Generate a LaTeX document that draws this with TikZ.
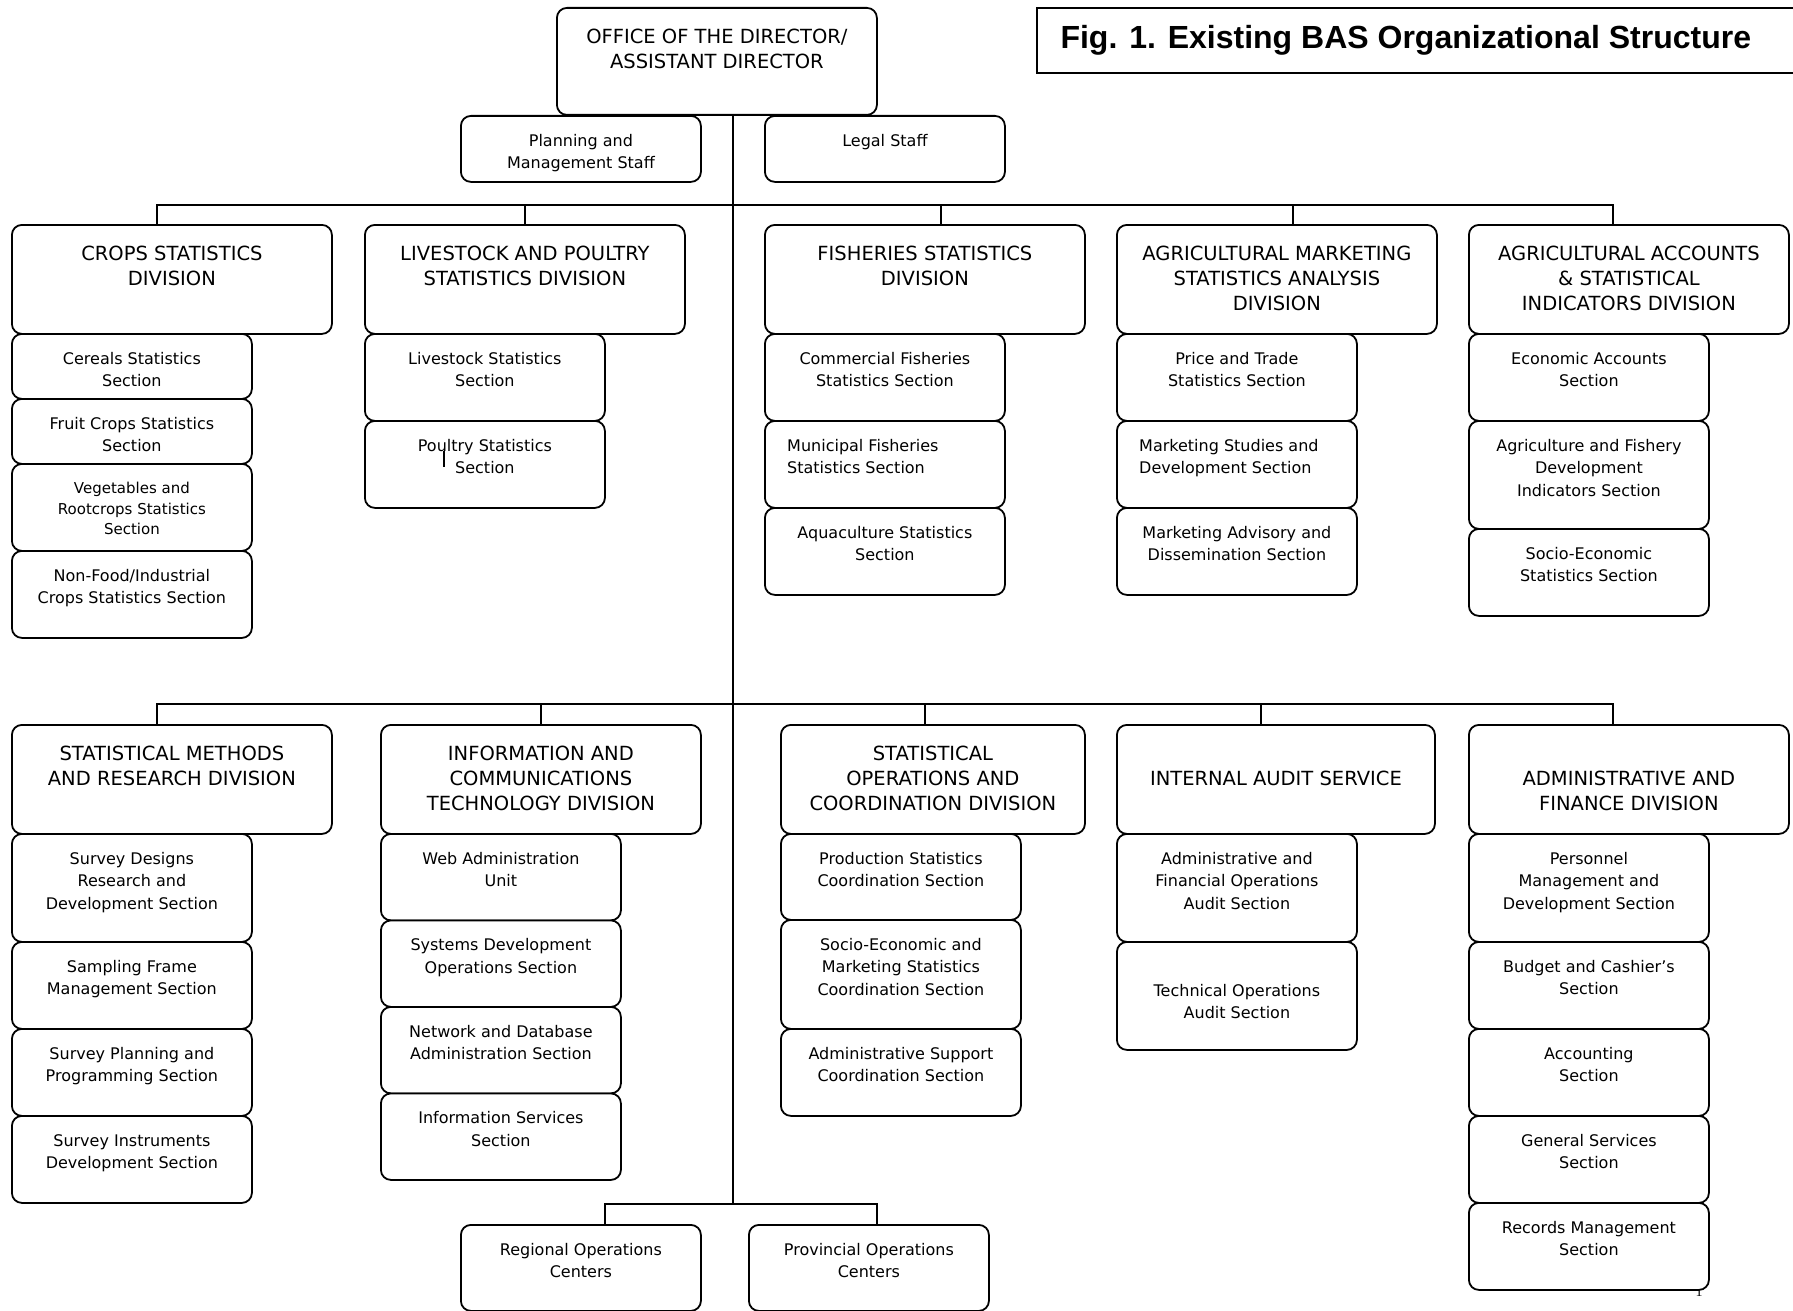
\documentclass[tikz,border=0pt]{standalone}
\usepackage{fontspec}
\setmainfont{DejaVu Sans}
\newfontfamily\headfont{Liberation Sans}
\newfontfamily\pagefont{Liberation Serif}
\usetikzlibrary{positioning, calc}
\tikzset{
  unit/.style={
    draw=black, fill=white, line width=1.8pt, rounded corners=10pt,
    anchor=north west, inner sep=0pt
  },
  divbox/.style={unit, minimum width=320pt, minimum height=109pt},
  secbox/.style={unit, minimum width=240pt, minimum height=87pt},
  divtxt/.style={anchor=north, yshift=-21.5pt, inner sep=0pt, align=center,
    font=\fontsize{19.5}{25}\selectfont},
  sectxt/.style={anchor=north, yshift=-19pt, inner sep=0pt, align=center,
    font=\fontsize{16}{22.5}\selectfont},
  sectxtl/.style={sectxt, anchor=north west, xshift=23pt, align=left},
  link/.style={line width=1.5pt}
}

\begin{document}
\begin{tikzpicture}[x=1pt, y=-1pt]
  \useasboundingbox (0,0) rectangle (1793,1311);

  % ---- title -----------------------------------------------------------------
  \node[draw, line width=1.8pt, anchor=north west, inner sep=0pt,
    minimum width=790pt, minimum height=65pt,
    label={[anchor=west, xshift=21pt, font=\headfont\bfseries\fontsize{32}{36}\selectfont]west:{Fig. 1. Existing BAS Organizational Structure}}]
    (title) at (1036,7) {};

  % ---- office of the director --------------------------------------------------
  \node[divbox, minimum height=107pt, label={[divtxt]north:{OFFICE OF THE DIRECTOR/\\ASSISTANT DIRECTOR}}] (office) at (556,7) {};
  \node[secbox, minimum height=66pt, label={[sectxt]north:{Planning and\\Management Staff}}] (plan) at (460,115) {};
  \node[secbox, minimum height=66pt, label={[sectxt]north:{Legal Staff}}] (legal) at (764,115) {};

  % ---- upper divisions ---------------------------------------------------------
  \node[divbox, label={[divtxt]north:{CROPS STATISTICS\\DIVISION}}] (crops) at (11,224) {};
  \node[divbox, label={[divtxt]north:{LIVESTOCK AND POULTRY\\STATISTICS DIVISION}}] (live) at (364,224) {};
  \node[divbox, label={[divtxt]north:{FISHERIES STATISTICS\\DIVISION}}] (fish) at (764,224) {};
  \node[divbox, label={[divtxt]north:{AGRICULTURAL MARKETING\\STATISTICS ANALYSIS\\DIVISION}}] (mkt) at (1116,224) {};
  \node[divbox, label={[divtxt]north:{AGRICULTURAL ACCOUNTS\\\& STATISTICAL\\INDICATORS DIVISION}}] (accts) at (1468,224) {};

  % ---- crops sections
  \node[secbox, minimum height=65pt, label={[sectxt]north:{Cereals Statistics\\Section}}] (cereal) at (11,333) {};
  \node[secbox, minimum height=65pt, label={[sectxt]north:{Fruit Crops Statistics\\Section}}] (fruit) at (11,398) {};
  \node[secbox, label={[sectxt, font=\fontsize{15}{20.5}\selectfont]north:{Vegetables and\\Rootcrops Statistics\\Section}}] (veg) at (11,463) {};
  \node[secbox, label={[sectxt]north:{Non-Food/Industrial\\Crops Statistics Section}}] (nonfood) at (11,550) {};

  % ---- livestock sections
  \node[secbox, label={[sectxt]north:{Livestock Statistics\\Section}}] (stock) at (364,333) {};
  \node[secbox, label={[sectxt]north:{Poultry Statistics\\Section}}] (poultry) at (364,420) {};

  % ---- fisheries sections
  \node[secbox, label={[sectxt]north:{Commercial Fisheries\\Statistics Section}}] (comm) at (764,333) {};
  \node[secbox, label={[sectxtl]north west:{Municipal Fisheries\\Statistics Section}}] (muni) at (764,420) {};
  \node[secbox, label={[sectxt]north:{Aquaculture Statistics\\Section}}] (aqua) at (764,507) {};

  % ---- marketing sections
  \node[secbox, label={[sectxt]north:{Price and Trade\\Statistics Section}}] (price) at (1116,333) {};
  \node[secbox, label={[sectxtl]north west:{Marketing Studies and\\Development Section}}] (mstud) at (1116,420) {};
  \node[secbox, label={[sectxt]north:{Marketing Advisory and\\Dissemination Section}}] (madv) at (1116,507) {};

  % ---- accounts sections
  \node[secbox, label={[sectxt]north:{Economic Accounts\\Section}}] (econ) at (1468,333) {};
  \node[secbox, minimum height=108pt, label={[sectxt]north:{Agriculture and Fishery\\Development\\Indicators Section}}] (afdi) at (1468,420) {};
  \node[secbox, label={[sectxt]north:{Socio-Economic\\Statistics Section}}] (sesec) at (1468,528) {};

  % ---- lower divisions ---------------------------------------------------------
  \node[divbox, label={[divtxt]north:{STATISTICAL METHODS\\AND RESEARCH DIVISION}}] (meth) at (11,724) {};
  \node[divbox, label={[divtxt]north:{INFORMATION AND\\COMMUNICATIONS\\TECHNOLOGY DIVISION}}] (ict) at (380,724) {};
  \node[divbox, minimum width=304pt, label={[divtxt]north:{STATISTICAL\\OPERATIONS AND\\COORDINATION DIVISION}}] (ops) at (780,724) {};
  \node[divbox, minimum width=318pt, label={[divtxt, yshift=-25pt]north:{INTERNAL AUDIT SERVICE}}] (audit) at (1116,724) {};
  \node[divbox, label={[divtxt, yshift=-25pt]north:{ADMINISTRATIVE AND\\FINANCE DIVISION}}] (admin) at (1468,724) {};

  % ---- methods sections
  \node[secbox, minimum height=108pt, label={[sectxt]north:{Survey Designs\\Research and\\Development Section}}] (design) at (11,833) {};
  \node[secbox, label={[sectxt]north:{Sampling Frame\\Management Section}}] (frame) at (11,941) {};
  \node[secbox, label={[sectxt]north:{Survey Planning and\\Programming Section}}] (plang) at (11,1028) {};
  \node[secbox, label={[sectxt]north:{Survey Instruments\\Development Section}}] (instr) at (11,1115) {};

  % ---- ict sections
  \node[secbox, minimum height=86.5pt, label={[sectxt]north:{Web Administration\\Unit}}] (web) at (380,833) {};
  \node[secbox, minimum height=86.5pt, label={[sectxt]north:{Systems Development\\Operations Section}}] (sysdev) at (380,919.5) {};
  \node[secbox, minimum height=86.5pt, label={[sectxt]north:{Network and Database\\Administration Section}}] (netdb) at (380,1006) {};
  \node[secbox, minimum height=86.5pt, label={[sectxt]north:{Information Services\\Section}}] (infoserv) at (380,1092.5) {};

  % ---- operations sections
  \node[secbox, minimum height=86pt, label={[sectxt]north:{Production Statistics\\Coordination Section}}] (prod) at (780,833) {};
  \node[secbox, minimum height=109pt, label={[sectxt]north:{Socio-Economic and\\Marketing Statistics\\Coordination Section}}] (semkt) at (780,919) {};
  \node[secbox, label={[sectxt]north:{Administrative Support\\Coordination Section}}] (adsup) at (780,1028) {};

  % ---- audit sections
  \node[secbox, minimum height=108pt, label={[sectxt]north:{Administrative and\\Financial Operations\\Audit Section}}] (afaud) at (1116,833) {};
  \node[secbox, minimum height=108pt, label={[sectxt, yshift=-24pt]north:{Technical Operations\\Audit Section}}] (techaud) at (1116,941) {};

  % ---- admin sections
  \node[font=\pagefont\fontsize{14}{14}\selectfont, inner sep=0pt] (pageno) at (1699,1292) {1};
  \node[secbox, minimum height=108pt, label={[sectxt]north:{Personnel\\Management and\\Development Section}}] (pers) at (1468,833) {};
  \node[secbox, label={[sectxt]north:{Budget and Cashier’s\\Section}}] (budget) at (1468,941) {};
  \node[secbox, label={[sectxt]north:{Accounting\\Section}}] (acctg) at (1468,1028) {};
  \node[secbox, label={[sectxt]north:{General Services\\Section}}] (gensrv) at (1468,1115) {};
  \node[secbox, label={[sectxt]north:{Records Management\\Section}}] (records) at (1468,1202) {};

  % ---- field offices ------------------------------------------------------------
  \node[secbox, minimum height=86pt, label={[sectxt]north:{Regional Operations\\Centers}}] (reg) at (460,1224) {};
  \node[secbox, minimum height=86pt, label={[sectxt]north:{Provincial Operations\\Centers}}] (prov) at (748,1224) {};

  % ---- trunk and buses ----------------------------------------------------------
  \coordinate (trunk) at ([xshift=16pt]office.south);
  \coordinate (bus1) at ([yshift=-89pt]trunk);
  \coordinate (bus2) at ([yshift=-588pt]trunk);
  \coordinate (bus3) at ([yshift=-1088pt]trunk);
  \draw[link] (trunk) -- (bus3);

  \draw[link] ([xshift=-15pt]crops.north) |- (bus1) -| ([xshift=-16pt]accts.north);
  \draw[link] (live.north) -- (live.north |- bus1);
  \draw[link] ([xshift=16pt]fish.north) -- ([xshift=16pt]fish.north |- bus1);
  \draw[link] ([xshift=16pt]mkt.north) -- ([xshift=16pt]mkt.north |- bus1);

  \draw[link] ([xshift=-15pt]meth.north) |- (bus2) -| ([xshift=-16pt]admin.north);
  \draw[link] (ict.north) -- (ict.north |- bus2);
  \draw[link] ([xshift=-8pt]ops.north) -- ([xshift=-8pt]ops.north |- bus2);
  \draw[link] ([xshift=-15pt]audit.north) -- ([xshift=-15pt]audit.north |- bus2);

  \draw[link] ([xshift=24pt]reg.north) |- (bus3) -| ([xshift=8pt]prov.north);

  % ---- stray mark in the poultry box
  \draw[line width=1.2pt] ([xshift=80pt, yshift=-31pt]poultry.north west) -- ++(0,16);

\end{tikzpicture}
\end{document}
